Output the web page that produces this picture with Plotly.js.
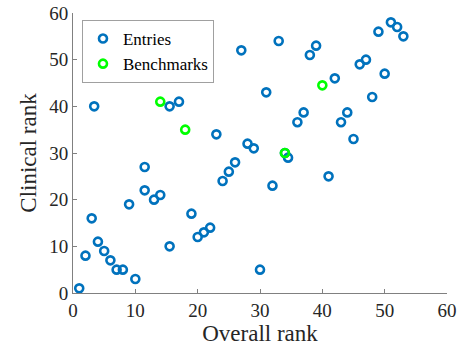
<!DOCTYPE html>
<html>
<head>
<meta charset="utf-8">
<script src="https://cdn.plot.ly/plotly-3.0.1.min.js"></script>
<style>html,body{margin:0;padding:0;background:#fff}#chart{width:464px;height:351px}</style>
</head>
<body>
<div id="chart"></div>
<script>
const entriesX = [1,2,3,3.4,4,5,6,7,8,9,10,11.5,11.5,13,14,15.5,15.5,17,19,20,21,22,23,24,25,26,27,28,29,30,31,32,33,34,34.5,36,37,38,39,41,42,43,44,45,46,47,48,49,50,51,52,53];
const entriesY = [1,8,16,40,11,9,7,5,5,19,3,27,22,20,21,10,40,41,17,12,13,14,34,24,26,28,52,32,31,5,43,23,54,30,29,36.6,38.7,51,53,25,46,36.6,38.7,33,49,50,42,56,47,58,57,55];
const benchX = [14,18,34,40];
const benchY = [41,35,30,44.5];
const xTicks = [0,10,20,30,40,50,60];
const yTicks = [0,10,20,30,40,50,60];

const font = 'Liberation Serif';
const traces = [
  {x: entriesX, y: entriesY, type: 'scatter', mode: 'markers', name: 'Entries',
   marker: {symbol: 'circle-open', size: 8, color: '#0072BD', line: {width: 2.6, color: '#0072BD'}}},
  {x: benchX, y: benchY, type: 'scatter', mode: 'markers', name: 'Benchmarks',
   marker: {symbol: 'circle-open', size: 8, color: '#00FF00', line: {width: 2.6, color: '#00FF00'}}}
];
const axisCommon = {
  showgrid: false, zeroline: false, showline: true, linecolor: '#808080', linewidth: 1,
  ticks: 'inside', ticklen: 4, tickcolor: '#808080', mirror: false,
  tickfont: {family: font, size: 19, color: '#262626'}
};
const layout = {
  width: 464, height: 351,
  margin: {l: 73, r: 17, t: 13, b: 58},
  paper_bgcolor: '#fff', plot_bgcolor: '#fff',
  showlegend: true,
  legend: {x: 0.024, y: 0.975, xanchor: 'left', yanchor: 'top',
    bordercolor: '#a0a0a0', borderwidth: 1, bgcolor: '#fff',
    font: {family: font, size: 17, color: '#000'}, itemwidth: 30, tracegroupgap: 0},
  xaxis: Object.assign({}, axisCommon, {range: [0, 60], tickvals: xTicks, ticktext: xTicks.map(String),
    title: {text: 'Overall rank', font: {family: font, size: 23, color: '#262626'}, standoff: 4}}),
  yaxis: Object.assign({}, axisCommon, {range: [0, 60], tickvals: yTicks, ticktext: yTicks.map(String),
    title: {text: 'Clinical rank', font: {family: font, size: 23, color: '#262626'}, standoff: 6}})
};
Plotly.newPlot('chart', traces, layout, {displayModeBar: false, staticPlot: true});
</script>
</body>
</html>
